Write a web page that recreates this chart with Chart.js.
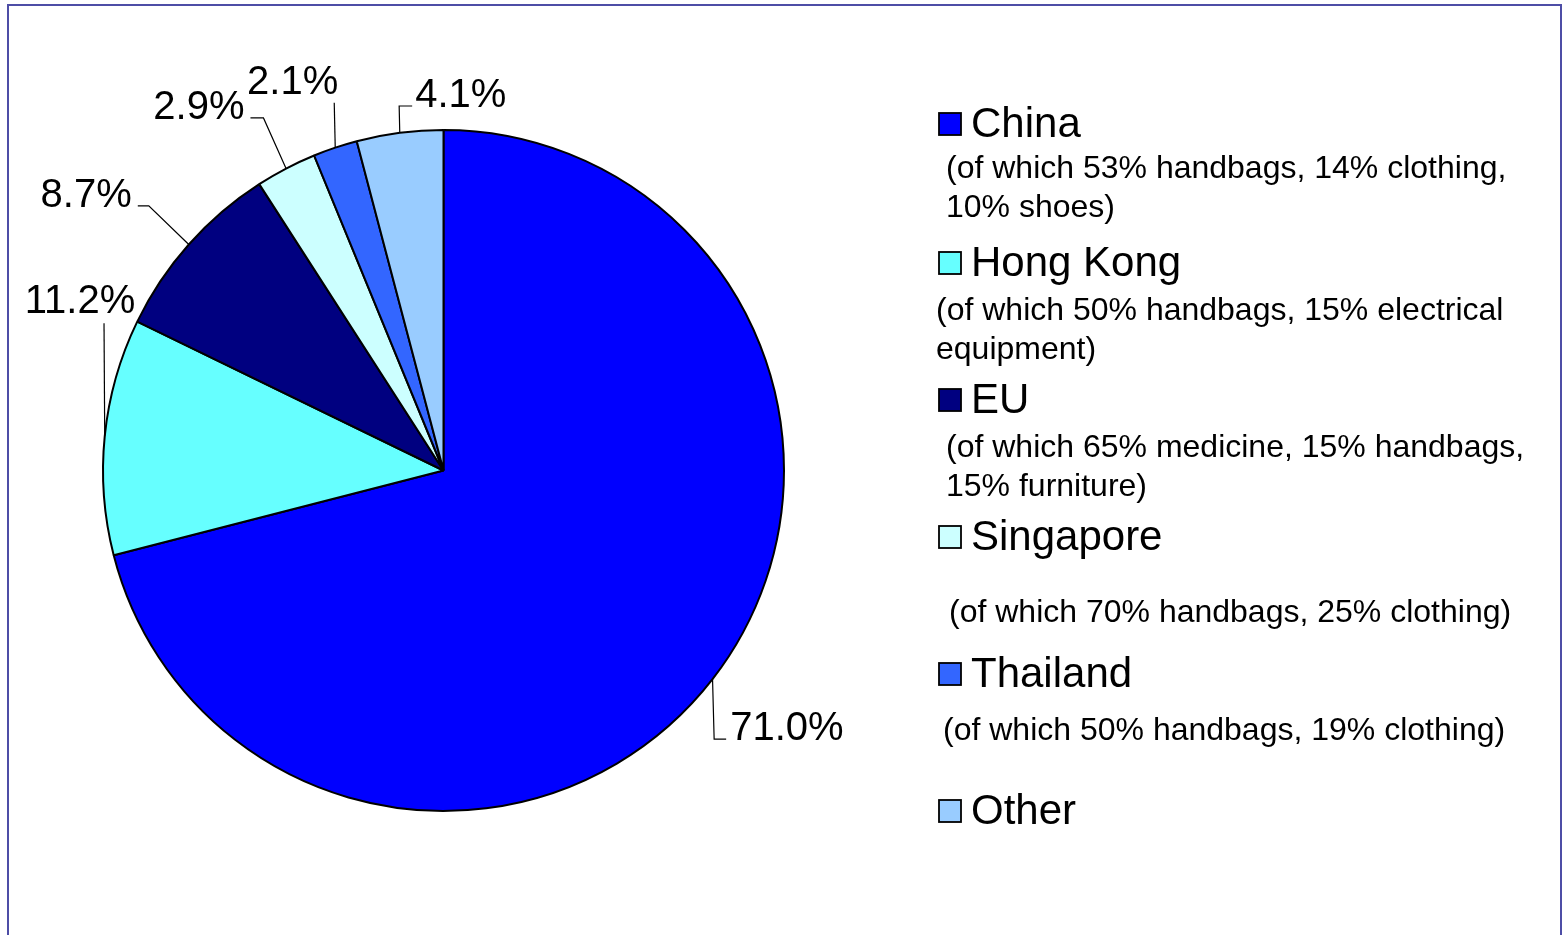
<!DOCTYPE html>
<html>
<head>
<meta charset="utf-8">
<script src="https://cdn.jsdelivr.net/npm/chart.js@4.4.1/dist/chart.umd.min.js"></script>
<style>
	html, body { margin: 0; padding: 0; background: #fff; }
	#wrap { position: relative; width: 1562px; height: 935px; }
</style>
</head>
<body>
<div id="wrap"><canvas id="chart-imports"></canvas></div>
<script>
// Data
const COUNTRIES = ["China", "Hong Kong", "EU", "Singapore", "Thailand", "Other"];
const SHARES = [71.0, 11.2, 8.7, 2.9, 2.1, 4.1];
const NOTES = [
	["(of which 53% handbags, 14% clothing,", "10% shoes)"],
	["(of which 50% handbags, 15% electrical", "equipment)"],
	["(of which 65% medicine, 15% handbags,", "15% furniture)"],
	["(of which 70% handbags, 25% clothing)"],
	["(of which 50% handbags, 19% clothing)"],
	[],
];
const SLICE_COLORS = ["#0000ff", "#66ffff", "#000080", "#ccffff", "#3366ff", "#99ccff"];

const FONT = '"Liberation Sans", Arial, sans-serif';

// leader line elbow (relative to slice mid point on the rim), horizontal tail, text placement
const LABEL_LAYOUT = [
	{ ex: 1.6, ey: 60, tail: 12, align: "left", tx: 4, ty: 1 },
	{ ex: -0.7, ey: -113, tail: 0, align: "center", tx: -24, ty: -10 },
	{ ex: -40, ey: -38.7, tail: -11, align: "right", tx: -6, ty: 1 },
	{ ex: -22.6, ey: -50.7, tail: -13, align: "right", tx: -6, ty: 1 },
	{ ex: -1, ey: -45, tail: 0, align: "right", tx: 4, ty: -9 },
	{ ex: -0.6, ey: -26.8, tail: 13, align: "left", tx: 3, ty: 1 },
];

// legend rows: title centre y, note start x / first line centre y
const LEGEND_ROWS = [
	{ y: 124, nx: 946, ny: 169 },
	{ y: 263, nx: 936, ny: 311 },
	{ y: 400, nx: 946, ny: 448 },
	{ y: 537, nx: 949, ny: 613 },
	{ y: 674, nx: 943, ny: 731 },
	{ y: 811, nx: 943, ny: 860 },
];

const sliceLabels = {
	id: "sliceLabels",
	afterDatasetsDraw(chart) {
		const { ctx } = chart;
		const meta = chart.getDatasetMeta(0);
		ctx.save();
		ctx.strokeStyle = "#000";
		ctx.lineWidth = 1.2;
		ctx.fillStyle = "#000";
		ctx.font = "40px " + FONT;
		ctx.textBaseline = "alphabetic";
		meta.data.forEach((arc, i) => {
			const lay = LABEL_LAYOUT[i];
			const mid = (arc.startAngle + arc.endAngle) / 2;
			const mx = arc.x + Math.cos(mid) * arc.outerRadius;
			const my = arc.y + Math.sin(mid) * arc.outerRadius;
			const ex = mx + lay.ex;
			const ey = my + lay.ey;
			const endX = ex + lay.tail;
			ctx.beginPath();
			ctx.moveTo(mx, my);
			ctx.lineTo(ex, ey);
			ctx.lineTo(endX, ey);
			ctx.stroke();
			ctx.textAlign = lay.align;
			ctx.fillText(SHARES[i].toFixed(1) + "%", endX + lay.tx, ey + lay.ty);
		});
		ctx.restore();
	},
	afterDraw(chart) {
		const { ctx } = chart;
		ctx.save();
		// outer frame
		ctx.strokeStyle = "#4d4da6";
		ctx.lineWidth = 2;
		ctx.strokeRect(8, 5, 1553, 1000);

		// legend
		LEGEND_ROWS.forEach((row, i) => {
			ctx.fillStyle = SLICE_COLORS[i];
			ctx.fillRect(939, row.y - 11, 22, 22);
			ctx.strokeStyle = "#000";
			ctx.lineWidth = 1.8;
			ctx.strokeRect(939, row.y - 11, 22, 22);

			ctx.fillStyle = "#000";
			ctx.textAlign = "left";
			ctx.textBaseline = "middle";
			ctx.font = "42px " + FONT;
			ctx.fillText(COUNTRIES[i], 971, row.y + 1);

			ctx.font = "32px " + FONT;
			NOTES[i].forEach((line, j) => {
				ctx.fillText(line, row.nx, row.ny + j * 39);
			});
		});
		ctx.restore();
	},
};

const CHART_DATA = {
	labels: COUNTRIES,
	datasets: [
		{
			data: SHARES,
			backgroundColor: SLICE_COLORS,
			borderColor: "#000",
			borderWidth: 2,
			hoverOffset: 0,
		},
	],
};

const CHART_CONFIG = {
	type: "pie",
	data: CHART_DATA,
	options: {
		responsive: true,
		maintainAspectRatio: false,
		animation: false,
		layout: {
			padding: { left: 102, top: 129, right: 777, bottom: 123 },
		},
		plugins: {
			legend: { display: false },
			title: { display: false },
			tooltip: { enabled: false },
		},
	},
	plugins: [sliceLabels],
};

new Chart(document.getElementById("chart-imports"), CHART_CONFIG);
</script>
</body>
</html>
